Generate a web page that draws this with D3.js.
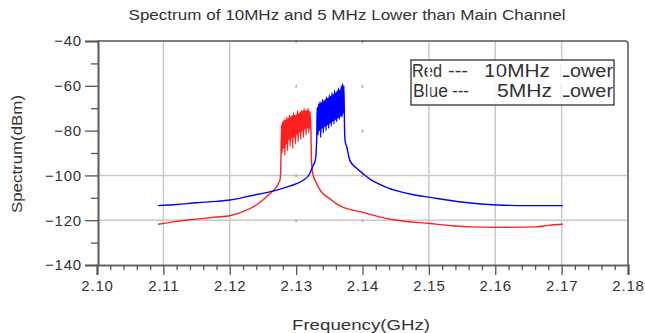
<!DOCTYPE html>
<html><head><meta charset="utf-8">
<script src="https://cdn.jsdelivr.net/npm/d3@7"></script>
<style>
body{margin:0;background:#fff;}
text{font-family:"Liberation Sans",Arial,sans-serif;fill:#333;}
</style></head><body>
<svg id="c" width="645" height="333"></svg>
<script>
const title = "Spectrum of 10MHz and 5 MHz Lower than Main Channel";
const xLabel = "Frequency(GHz)";
const yLabel = "Spectrum(dBm)";
const xTicks = [2.10,2.11,2.12,2.13,2.14,2.15,2.16,2.17,2.18];
const yTicks = [-40,-60,-80,-100,-120,-140];
const xGridShown = [2.11,2.12,2.15,2.16,2.17];
const yGridShown = [-100,-120];
const xGridFaint = [2.13,2.14];
const yGridFaint = [-40,-60,-80];

const redFreq = [2.1092,2.112,2.115,2.118,2.12,2.122,2.124,2.125,2.126,2.1268,2.1273,2.1276,
 2.1277,2.1278,2.1279,2.1280,2.1281,2.1282,2.1283,2.1284,2.1285,2.1286,2.1287,2.1288,2.1289,2.1290,
 2.1291,2.1292,2.1293,2.1294,2.1295,2.1296,2.1297,2.1298,2.1299,2.1300,2.1301,2.1302,2.1303,2.1304,
 2.1305,2.1306,2.1307,2.1308,2.1309,2.1310,2.1311,2.1312,2.1313,2.1314,2.1315,2.1316,2.1317,2.1318,
 2.1319,2.1320,2.1321,2.1322,
 2.1323,2.1325,2.1330,2.1335,2.1341,2.1351,2.136,2.1371,2.1385,2.1401,2.1425,2.1451,2.1502,2.153,
 2.1562,2.16,2.1662,2.168,2.1702];
const redVal = [-121.8,-120.5,-119.5,-118.6,-118,-116.2,-113.2,-111,-108.3,-106,-103.8,-101.5,
 -95,-80,-90,-76,-88,-75,-91,-78,-86,-74,-89,-77,-84,-73,
 -87,-76,-82,-74,-88,-72,-83,-75,-86,-73,-81,-71,-85,-74,
 -80,-72,-84,-71,-79,-73,-83,-70,-78,-72,-82,-71,-77,-70,
 -81,-72,-78,-74,
 -92,-99.3,-103,-106,-108.3,-110.5,-112.5,-114.3,-115.5,-116.5,-118.5,-120,-121.5,-122.3,
 -123,-123.2,-123,-122.3,-121.8];
// dense (unresolved) part of the red channel: envelope of the noise
const redBandFreq = [2.1277,2.1280,2.1285,2.1290,2.1295,2.1300,2.1305,2.1310,2.1315,2.1320,2.1322];
const redBandTop  = [-78,-76,-75,-74,-73,-73,-72,-71,-71,-71,-72];
const redBandBot  = [-89,-87,-85,-84,-83,-82,-81,-80,-79,-79,-80];

const blueFreq = [2.1092,2.112,2.115,2.118,2.12,2.123,2.1268,2.129,2.131,2.132,2.1325,2.1329,
 2.1331,2.1332,2.1333,2.1334,2.1335,2.1336,2.1337,2.1338,2.1339,2.1340,2.1341,2.1342,2.1343,2.1344,
 2.1345,2.1346,2.1347,2.1348,2.1349,2.1350,2.1351,2.1352,2.1353,2.1354,2.1355,2.1356,2.1357,2.1358,
 2.1359,2.1360,2.1361,2.1362,2.1363,2.1364,2.1365,2.1366,2.1367,2.1368,2.1369,2.1370,2.1371,2.1372,
 2.1373,2.1374,2.1376,2.1379,2.1381,2.139,2.1401,2.1413,2.1426,2.144,2.1451,2.1475,2.1502,2.1552,2.1602,2.165,2.1702];
const blueVal = [-113.5,-113,-112.2,-111.6,-111,-109.2,-106.8,-104.8,-102.3,-99.5,-96,-93,
 -84,-70,-82,-68,-80,-67,-83,-69,-79,-66,-81,-68,-78,-66,
 -80,-65,-77,-67,-79,-64,-76,-66,-78,-63,-75,-65,-77,-62,
 -74,-64,-76,-62,-73,-61,-75,-63,-72,-60,-74,-59,-71,-60,
 -80,-85,-87,-91,-93.4,-96.5,-99.3,-102,-104,-105.8,-106.8,-108.5,-109.8,-112,-113.2,-113.5,-113.5];
const blueBandFreq = [2.1331,2.1335,2.1340,2.1345,2.1350,2.1355,2.1360,2.1365,2.1370,2.1372];
const blueBandTop  = [-70,-68,-67,-66,-65,-64,-63,-62,-61,-61];
const blueBandBot  = [-82,-80,-79,-78,-77,-76,-75,-74,-73,-72];

const legendRows = [
  {parts:["Red","---","10MHz","Lower"]},
  {parts:["Blue","---","5MHz","Lower"]}
];

const svg = d3.select("#c");
const X0=97, X1=628, Y0=41, Y1=265;
const x = d3.scaleLinear().domain([2.10,2.18]).range([X0,X1]);
const y = d3.scaleLinear().domain([-140,-40]).range([Y1,Y0]);

// grid
const g = svg.append("g");
g.selectAll(".vg").data(xGridShown).join("line")
 .attr("x1",d=>x(d)).attr("x2",d=>x(d)).attr("y1",Y0).attr("y2",Y1)
 .attr("stroke","#c8c8c8").attr("stroke-width",1.5);
g.selectAll(".hg").data(yGridShown).join("line")
 .attr("x1",X0).attr("x2",X1).attr("y1",d=>y(d)).attr("y2",d=>y(d))
 .attr("stroke","#c8c8c8").attr("stroke-width",1.5);
const marks=[];
xGridFaint.forEach(a=>yGridFaint.concat(yGridShown).forEach(b=>marks.push([a,b])));
g.selectAll(".mk").data(marks).join("line")
 .attr("x1",d=>x(d[0])).attr("x2",d=>x(d[0])).attr("y1",d=>y(d[1])-1).attr("y2",d=>y(d[1])+2)
 .attr("stroke","#aaa").attr("stroke-width",1.5);

// series
const line = d3.line().x(d=>x(d[0])).y(d=>y(d[1])).curve(d3.curveMonotoneX);
const band = d3.area().x(d=>x(d[0])).y0(d=>y(d[2])).y1(d=>y(d[1]));
svg.append("path").datum(redBandFreq.map((f,i)=>[f,redBandTop[i],redBandBot[i]]))
 .attr("d",band).attr("fill","#ff2020");
svg.append("path").datum(blueBandFreq.map((f,i)=>[f,blueBandTop[i],blueBandBot[i]]))
 .attr("d",band).attr("fill","#0000ff");
svg.append("path").datum(redFreq.map((f,i)=>[f,redVal[i]]))
 .attr("d",line).attr("fill","none").attr("stroke","#ff2020").attr("stroke-width",1.4)
 .attr("stroke-linejoin","round");
svg.append("path").datum(blueFreq.map((f,i)=>[f,blueVal[i]]))
 .attr("d",line).attr("fill","none").attr("stroke","#0000ff").attr("stroke-width",1.4)
 .attr("stroke-linejoin","round");

// border
svg.append("path").attr("d",`M${X0},${Y0}H${X1-3}Q${X1},${Y0} ${X1},${Y0+3}V${Y1}`)
 .attr("fill","none").attr("stroke","#555").attr("stroke-width",1.5);

// axes
const xMinor = d3.range(2.100,2.1801,0.002).filter(v=>Math.abs(v*100-Math.round(v*100))>1e-6);
svg.append("g").attr("transform",`translate(0,${Y1})`)
 .call(d3.axisBottom(x).tickValues(xTicks).tickFormat(d3.format(".2f")).tickSize(10).tickPadding(5));
svg.append("g").attr("transform",`translate(0,${Y1})`)
 .call(d3.axisBottom(x).tickValues(xMinor).tickFormat("").tickSize(5))
 .call(s=>s.select(".domain").remove());
const yMinor = [-50,-70,-90,-110,-130];
svg.append("g").attr("transform",`translate(${X0+1},0)`)
 .call(d3.axisLeft(y).tickValues(yTicks).tickFormat(d3.format("d")).tickSize(13).tickPadding(3));
svg.append("g").attr("transform",`translate(${X0+1},0)`)
 .call(d3.axisLeft(y).tickValues(yMinor).tickFormat("").tickSize(7))
 .call(s=>s.select(".domain").remove());
svg.selectAll(".domain").attr("stroke","#666").attr("stroke-width",2.2);
svg.selectAll(".tick line").attr("stroke","#555").attr("stroke-width",1.3);
svg.selectAll(".tick text").attr("font-size",15).attr("letter-spacing",0.8)
 .attr("font-family","Liberation Sans, Arial, sans-serif").attr("fill","#333");

// titles
svg.append("text").attr("x",347).attr("y",20).attr("text-anchor","middle")
 .attr("font-size",14).attr("textLength",437).attr("lengthAdjust","spacingAndGlyphs").text(title);
svg.append("text").attr("x",361).attr("y",330).attr("text-anchor","middle")
 .attr("font-size",15).attr("textLength",138).attr("lengthAdjust","spacingAndGlyphs").text(xLabel);
svg.append("text").attr("transform","translate(22,154) rotate(-90)").attr("text-anchor","middle")
 .attr("font-size",14).attr("textLength",118).attr("lengthAdjust","spacingAndGlyphs").text(yLabel);

// legend
const lg = svg.append("g");
lg.append("rect").attr("x",411).attr("y",60).attr("width",203).attr("height",45)
 .attr("fill","#fff").attr("stroke","#333").attr("stroke-width",1.3);
const partPos = [
  [[412,30],[448,20],[484,66],[559,54]],
  [[413,35],[452,17],[497,55],[559,54]]
];
legendRows.forEach((r,ri)=>{
  r.parts.forEach((p,pi)=>{
    lg.append("text").attr("x",partPos[ri][pi][0]).attr("y",ri===0?77:97)
     .attr("font-size",18).attr("textLength",partPos[ri][pi][1]).attr("lengthAdjust","spacingAndGlyphs")
     .attr("fill","#222").text(p);
  });
});
// grid lines crossing the legend appear white there, eating into letters
lg.selectAll(".lgl").data([2.15,2.16,2.17]).join("line")
 .attr("x1",d=>x(d)).attr("x2",d=>x(d)).attr("y1",61).attr("y2",104)
 .attr("stroke","#fcfcfc").attr("stroke-width",2.8);
</script></body></html>
